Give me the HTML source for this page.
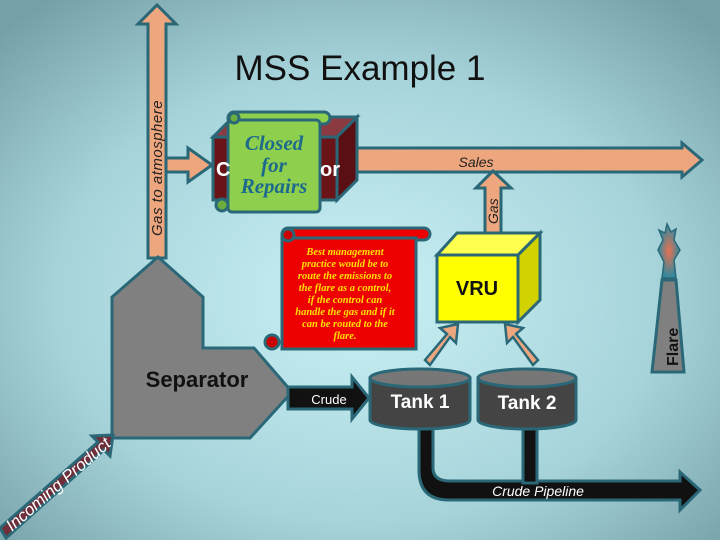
<!DOCTYPE html>
<html><head><meta charset="utf-8"><style>
html,body{margin:0;padding:0;width:720px;height:540px;overflow:hidden}
svg{display:block}
text{font-family:"Liberation Sans",sans-serif}
text.serif{font-family:"Liberation Serif",serif}
</style></head><body>
<svg width="720" height="540" viewBox="0 0 720 540">
<defs>
<radialGradient id="bg" cx="0.5" cy="0.55" r="0.7">
<stop offset="0" stop-color="#c9f1f5"/><stop offset="0.6" stop-color="#a6d3da"/><stop offset="1" stop-color="#76a0a8"/>
</radialGradient>
<radialGradient id="fl" cx="0.5" cy="0.5" r="0.5"><stop offset="0" stop-color="#e87050"/><stop offset="1" stop-color="#2f8aa0"/></radialGradient>
</defs>
<rect width="720" height="540" fill="url(#bg)"/>
<g stroke="#2a6878" stroke-width="3" stroke-linejoin="miter">
<polygon points="148,258 148,24 138,24 157,5 176,24 166,24 166,258" fill="#eea67e"/>
<polygon points="166,158 188,158 188,148 212,165 188,182 188,172 166,172" fill="#eea67e"/>
<polygon points="342,148 682,148 682,143 702,160 682,177 682,172 342,172" fill="#eea67e"/>
<polygon points="485,233 485,188 476,188 493,171 511,188 501,188 501,233" fill="#eea67e"/>
<polygon points="158,257 203,297 203,348 254,348 292,392 250,438 112,438 112,297" fill="#808080"/>
<polygon points="0,528 98,442 92,436 113,435 110,456 104,450 6,538" fill="#6e2f3a"/>
<polygon points="213,137 233,117 357,117 337,137" fill="#8a3a40"/>
<polygon points="337,137 357,117 357,180 337,200" fill="#5a0f14"/>
<rect x="213" y="137" width="124" height="63" fill="#6a1418"/>
<polygon points="288,387 352,387 352,377 369,398 352,419 352,409 288,409" fill="#111"/>
<polygon points="437,255 457,233 540,233 518,255" fill="#ffff50"/>
<polygon points="518,255 540,233 540,300 518,322" fill="#d2d200"/>
<rect x="437" y="255" width="81" height="67" fill="#ffff00"/>
<polygon points="425,360 447,334 440,328 458,324 456,343 450,337 430,365" fill="#eea67e" stroke-width="2.5"/>
<polygon points="538,360 516,334 523,328 505,324 507,343 513,337 533,365" fill="#eea67e" stroke-width="2.5"/>
<path d="M419,425 L419,470 Q419,500 449,500 L680,500 L680,510 L700,490 L680,472 L680,481 L450,481 Q433,481 433,468 L433,425 Z" fill="#111"/>
<rect x="523" y="425" width="14" height="58" fill="#111"/>
<path d="M370,378 L370,420 A50,9 0 0 0 470,420 L470,378 Z" fill="#444"/>
<ellipse cx="420" cy="378" rx="50" ry="9" fill="#777"/>
<path d="M478,378 L478,420 A49,9 0 0 0 576,420 L576,378 Z" fill="#444"/>
<ellipse cx="527" cy="378" rx="49" ry="9" fill="#777"/>
<polygon points="662,280 676,280 684,372 652,372" fill="#808080"/>
<path d="M667,224 L671,232 L676,229 L674,240 L680,250 L674,260 L676,278 L662,278 L664,262 L658,250 L663,240 L659,230 L665,233 Z" fill="url(#fl)" stroke-width="1.5"/>
<rect x="282" y="228" width="148" height="12" rx="6" fill="#ee0000"/>
<rect x="282" y="238" width="134" height="111" fill="#ee0000"/>
<circle cx="288" cy="235" r="6" fill="#c00"/>
<circle cx="272" cy="342" r="7" fill="#c00"/>
<rect x="228" y="112" width="102" height="12" rx="6" fill="#8ed04e"/>
<rect x="228" y="120" width="92" height="92" rx="4" fill="#8ed04e"/>
<circle cx="234" cy="118" r="5" fill="#6cae3e"/>
<circle cx="222" cy="205" r="6" fill="#6cae3e"/>
</g>
<text x="360" y="80" font-size="35" text-anchor="middle" fill="#111">MSS Example 1</text>
<text transform="translate(162,236) rotate(-90)" font-size="15" fill="#222" font-style="italic" letter-spacing="0.5">Gas to atmosphere</text>
<text x="216" y="176" font-size="20" font-weight="bold" fill="#fff">C</text>
<text x="320" y="176" font-size="20" font-weight="bold" fill="#fff">or</text>
<g font-style="italic" font-weight="bold" fill="#1e6a8c" font-size="21" text-anchor="middle">
<text class="serif" x="274" y="150">Closed</text><text class="serif" x="274" y="172">for</text><text class="serif" x="274" y="193">Repairs</text></g>
<text x="476" y="167" font-size="14" font-style="italic" fill="#222" text-anchor="middle">Sales</text>
<text transform="translate(498,224) rotate(-90)" font-size="14" font-style="italic" fill="#222">Gas</text>
<text x="477" y="295" font-size="20" font-weight="bold" fill="#111" text-anchor="middle">VRU</text>
<g font-style="italic" font-weight="bold" fill="#ffe000" font-size="10.5" text-anchor="middle">
<text class="serif" x="345" y="255">Best management</text><text class="serif" x="345" y="267">practice would be to</text>
<text class="serif" x="345" y="279">route the emissions to</text><text class="serif" x="345" y="291">the flare as a control,</text>
<text class="serif" x="345" y="303">if the control can</text><text class="serif" x="345" y="315">handle the gas and if it</text>
<text class="serif" x="345" y="327">can be routed to the</text><text class="serif" x="345" y="339">flare.</text></g>
<text x="197" y="387" font-size="22" font-weight="bold" fill="#111" text-anchor="middle">Separator</text>
<text x="329" y="404" font-size="13" fill="#fff" text-anchor="middle">Crude</text>
<text x="420" y="408" font-size="19" font-weight="bold" fill="#fff" text-anchor="middle">Tank 1</text>
<text x="527" y="409" font-size="19" font-weight="bold" fill="#fff" text-anchor="middle">Tank 2</text>
<text x="538" y="496" font-size="14" font-style="italic" fill="#fff" text-anchor="middle">Crude Pipeline</text>
<text transform="translate(678,366) rotate(-90)" font-size="16" font-weight="bold" fill="#111">Flare</text>
<text transform="translate(12,532) rotate(-41)" font-size="17" font-style="italic" fill="#fff">Incoming Product</text>
</svg>
</body></html>
